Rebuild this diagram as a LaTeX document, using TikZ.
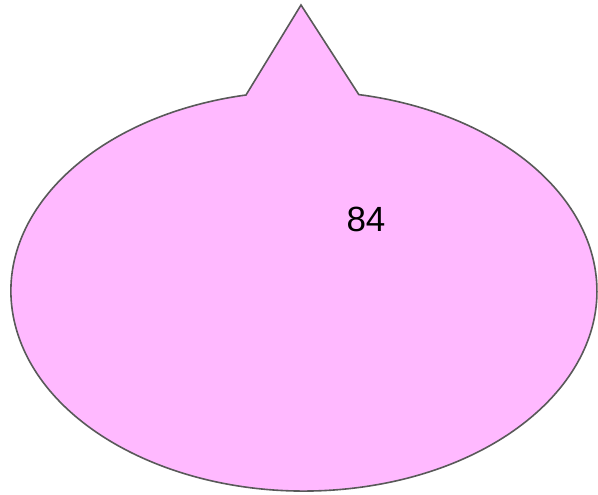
\documentclass[tikz,border=0pt]{standalone}
\usepackage{fontspec}
\setmainfont{Liberation Sans}
\usetikzlibrary{positioning}
\definecolor{bubblefill}{HTML}{FFB9FF}
\definecolor{bubbleline}{HTML}{595959}
\tikzset{bubble/.style={draw=bubbleline,fill=bubblefill,line width=1.6pt,line join=miter},numlabel/.style={font=\fontsize{35}{40}\selectfont,inner sep=0pt}}
\begin{document}
\begin{tikzpicture}[x=1pt,y=1pt]
\useasboundingbox (0,0) rectangle (598,495);
\coordinate (apex) at (301,490);
\coordinate (baseL) at (246,400);
\filldraw[bubble] (apex) -- (baseL) arc[start angle=101.4,end angle=439.2,x radius=293pt,y radius=200pt] -- cycle;
\node[numlabel] (value) at (366,276) {84};
\end{tikzpicture}
\end{document}
